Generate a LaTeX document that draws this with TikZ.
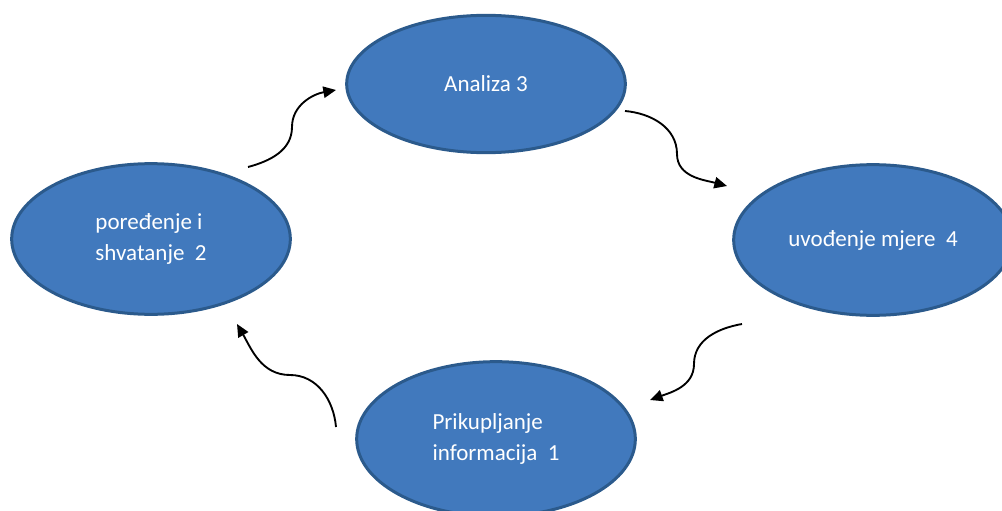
\documentclass[tikz,border=0pt]{standalone}
\usepackage{fontspec}
\setmainfont{Carlito}
\usetikzlibrary{positioning, arrows.meta, shapes}
\definecolor{phasefill}{HTML}{4179BD}
\definecolor{phaseedge}{HTML}{2B5A8C}

\begin{document}
\begin{tikzpicture}[
	x=0.75pt, y=0.75pt,
	phase/.style={ellipse, draw=phaseedge, fill=phasefill, line width=2.25pt, inner sep=0pt, minimum width=209pt, minimum height=113pt, text=white, align=left, font=\fontsize{17.25}{23.5}\selectfont},
	flowarrow/.style={-{Triangle[length=9.5pt, width=8.5pt]}, line width=1.4pt},
	>=LaTeX
]

\path[use as bounding box, clip] (0,0) rectangle (1002,-510);

\node[phase, minimum height=103pt] (analiza) at (486,-84) {Analiza 3};
\node[phase] (poredenje) at (151,-239) {poređenje i\\shvatanje\ \ 2};
\node[phase] (uvodenje) at (873,-240) {uvođenje mjere\ \ 4};
\node[phase, minimum height=116pt] (prikupljanje) at (496,-439) {Prikupljanje\\informacija\ \ 1};

\coordinate (s1) at (248,-167);
\coordinate (m1) at (292,-127);
\coordinate (e1) at (336,-90);
\coordinate (s2) at (625,-111);
\coordinate (m2) at (677,-154);
\coordinate (e2) at (727,-186);
\coordinate (s3) at (742,-324);
\coordinate (m3) at (694,-364);
\coordinate (e3) at (650,-400);
\coordinate (s4) at (336,-427);
\coordinate (m4) at (290,-375);
\coordinate (e4) at (237,-324);

\foreach \s/\m/\e/\a/\b/\c/\d in {s1/m1/e1/15/-90/90/190, s2/m2/e2/-5/90/-90/165, s3/m3/e3/190/90/-90/20, s4/m4/e4/95/0/180/-60}
	\draw[flowarrow] (\s) to[out=\a, in=\b] (\m) to[out=\c, in=\d] (\e);

\end{tikzpicture}
\end{document}
